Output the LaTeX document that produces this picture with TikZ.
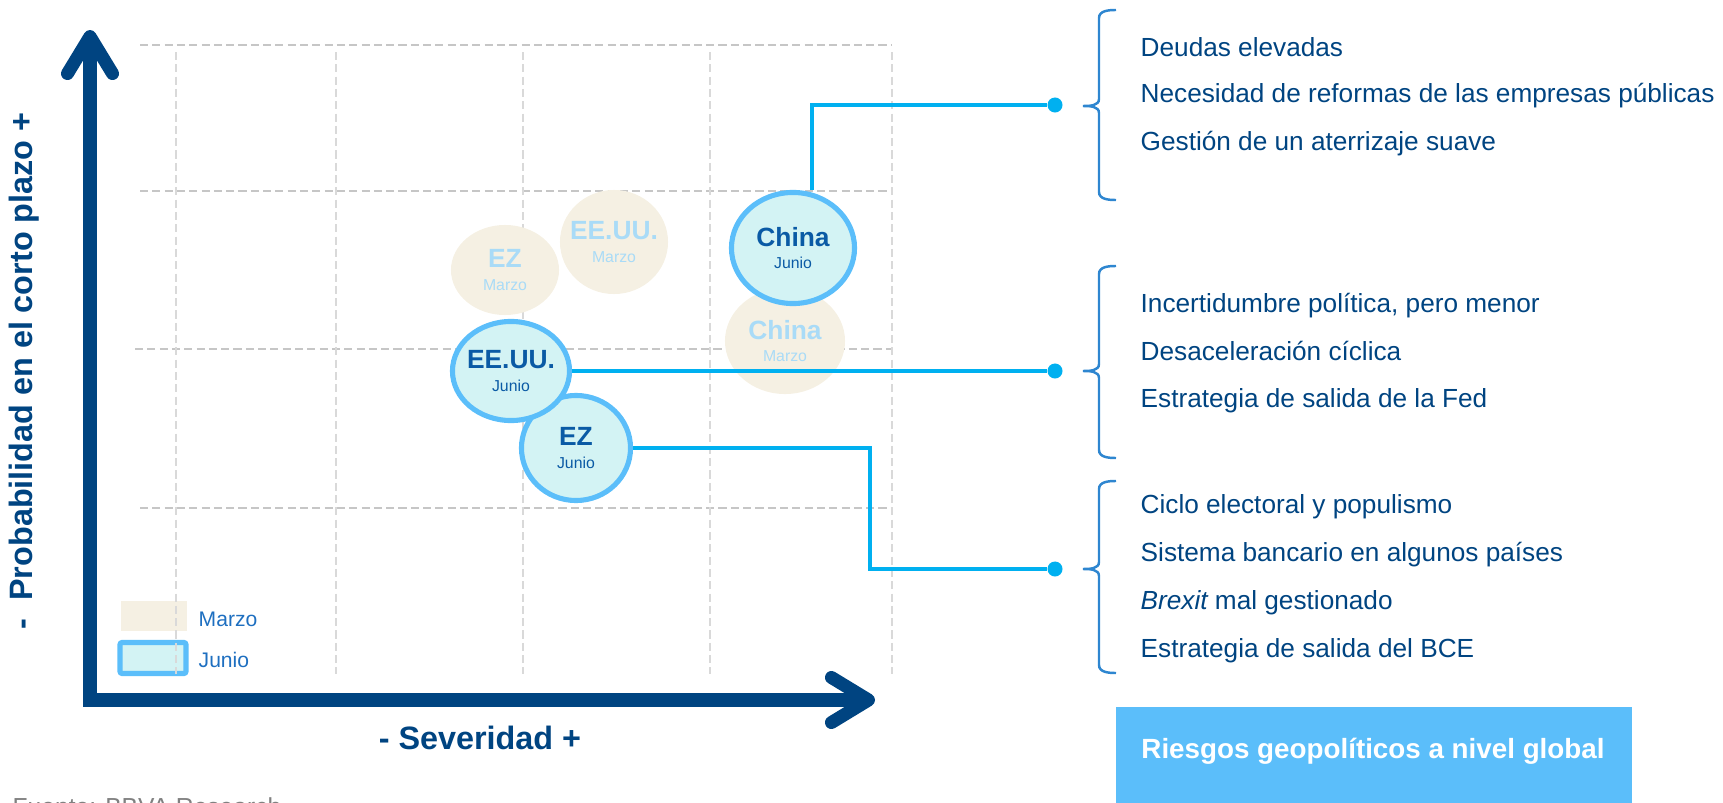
\documentclass[tikz,border=0pt]{standalone}
\usepackage{fontspec}
\setmainfont{Liberation Sans}
\usepackage{xcolor}
\usetikzlibrary{shapes.geometric,arrows.meta,positioning,calc}

\definecolor{navy}{HTML}{004481}
\definecolor{gridgray}{HTML}{C6C6C6}
\definecolor{gridlight}{HTML}{D9D9D9}
\definecolor{marzofill}{HTML}{F5F0E3}
\definecolor{marzotxt}{HTML}{A9DBF7}
\definecolor{juniofill}{HTML}{D3F3F4}
\definecolor{junioline}{HTML}{5BBEFA}
\definecolor{junioname}{HTML}{0A5AA5}
\definecolor{linkcyan}{HTML}{00B0F0}
\definecolor{bracketblue}{HTML}{2E86D0}
\definecolor{legtxt}{HTML}{1E6FC0}

\newcommand{\bubtext}[2]{{\fontsize{7.5}{6.5}\selectfont\bfseries #1}\\#2}

\begin{document}
\begin{tikzpicture}[x=0.01cm, y=-0.01cm,
    hgrid/.style={draw=gridgray, line width=0.55pt, dash pattern=on 2.3pt off 1.2pt},
    vgrid/.style={draw=gridlight, line width=0.55pt, dash pattern=on 2.3pt off 1.2pt},
    axis/.style={draw=navy, line width=3.7pt, line join=miter},
    marzo/.style={ellipse, fill=marzofill, inner sep=0pt},
    junio/.style={ellipse, draw=junioline, line width=1.45pt, fill=juniofill, inner sep=0pt},
    bubtxt/.style={align=center, inner sep=0pt, font=\fontsize{4.5}{6.5}\selectfont},
    link/.style={draw=linkcyan, line width=1.05pt},
    dot/.style={circle, fill=linkcyan, inner sep=0pt, minimum size=0.15cm},
    bracket/.style={draw=bracketblue, line width=0.7pt},
    item/.style={anchor=base west, inner sep=0pt, text=navy, font=\fontsize{7.45}{9}\selectfont},
    legtext/.style={anchor=base west, inner sep=0pt, text=legtxt, font=\fontsize{6}{7}\selectfont}]

    \useasboundingbox (0,0) rectangle (1723,803);

    % Legend
    \node [fill=marzofill, minimum width=0.66cm, minimum height=0.30cm, inner sep=0pt] (legM) at (154,616) {};
    \node [fill=juniofill, draw=junioline, line width=1.45pt, rounded corners=0.6pt,
           minimum width=0.66cm, minimum height=0.31cm, inner sep=0pt] (legJ) at (153,658) {};
    \node [legtext] (legMtxt) at (198,626) {Marzo};
    \node [legtext] (legJtxt) at (198,667) {Junio};

    % Dashed grid
    \foreach \y/\x in {45/140, 191/140, 349/135, 508/140}
        \draw [hgrid] (\x,\y) -- (892,\y);
    \foreach \x in {176, 336, 523, 710, 892}
        \draw [vgrid] (\x,52) -- (\x,674);

    % Axes
    \draw [axis, {Straight Barb[length=3.7mm, width=4.5mm, round]}-{Straight Barb[length=3.7mm, width=4.5mm, round]}]
        (90,30) -- (90,700) -- (875,700);
    \node [font=\fontsize{9.2}{11}\selectfont\bfseries, text=navy] (xlab) at (480,738) {- Severidad +};
    \node [font=\fontsize{9.2}{11}\selectfont\bfseries, text=navy, rotate=90] (ylab) at (24,371) {-\ \ Probabilidad en el corto plazo +};

    % March bubbles
    \node [marzo, minimum width=1.08cm, minimum height=0.90cm,
           label={[bubtxt, text=marzotxt]center:{\bubtext{EZ}{Marzo}}}] (ezM) at (505,270) {};
    \node [marzo, minimum width=1.08cm, minimum height=1.04cm,
           label={[bubtxt, text=marzotxt]center:{\bubtext{EE.UU.}{Marzo}}}] (eeuuM) at (614,242) {};
    \node [marzo, minimum width=1.20cm, minimum height=1.06cm,
           label={[bubtxt, text=marzotxt]center:{\bubtext{China}{Marzo}}}] (chinaM) at (785,341) {};

    % June bubbles
    \node [junio, minimum width=1.23cm, minimum height=1.11cm,
           label={[bubtxt, text=junioname]center:{\bubtext{China}{Junio}}}] (chinaJ) at (793,248) {};
    \node [junio, minimum width=1.09cm, minimum height=1.05cm,
           label={[bubtxt, text=junioname]center:{\bubtext{EZ}{Junio}}}] (ezJ) at (576,448) {};
    \node [junio, minimum width=1.17cm, minimum height=0.99cm,
           label={[bubtxt, text=junioname]center:{\bubtext{EE.UU.}{Junio}}}] (eeuuJ) at (511,371) {};

    % Connectors to the risk lists
    \node [dot] (dotA) at (1055,105) {};
    \node [dot] (dotB) at (1055,371) {};
    \node [dot] (dotC) at (1055,569) {};
    \coordinate (ezbend) at (870,448);
    \draw [link] ([xshift=0.19cm]chinaJ.north) |- (dotA);
    \draw [link] (eeuuJ.east) -- (dotB);
    \draw [link] (ezJ.east) -- (ezbend) |- (dotC);

    % Brackets
    \foreach \t/\m/\b in {10/106/200, 266/371/458, 481/569/673}
        \draw [bracket] (1116,\t) to[out=180,in=90] (1099,{\t+8}) -- (1099,{\m-7})
            to[out=-90,in=0] (1083,\m) to[out=0,in=90] (1099,{\m+7}) -- (1099,{\b-8})
            to[out=-90,in=180] (1116,\b);

    % Risk lists
    \foreach \t [count=\i] in {Deudas elevadas, Necesidad de reformas de las empresas públicas, Gestión de un aterrizaje suave}
        \node [item] (china\i) at (1140,{9+47*\i}) {\t};
    \foreach \t [count=\i] in {{Incertidumbre política, pero menor}, Desaceleración cíclica, Estrategia de salida de la Fed}
        \node [item] (eeuu\i) at (1140,{265+47.5*\i}) {\t};
    \foreach \t [count=\i] in {Ciclo electoral y populismo, Sistema bancario en algunos países, {{\itshape Brexit} mal gestionado}, Estrategia de salida del BCE}
        \node [item] (ez\i) at (1140,{465+48*\i}) {\t};

    % Global box
    \node [fill=junioline, minimum width=5.16cm, minimum height=1.1cm, inner sep=0pt, anchor=north west] (riskbox) at (1115,706) {};
    \node [anchor=base, inner sep=0pt, text=white, font=\fontsize{7.9}{9}\selectfont\bfseries] (risktxt) at (1373,758) {Riesgos geopolíticos a nivel global};

    % Source
    \node [anchor=north west, inner sep=0pt, text=gray, font=\fontsize{7}{8}\selectfont] (fuente) at (12,797) {Fuente: BBVA Research};
\end{tikzpicture}
\end{document}
